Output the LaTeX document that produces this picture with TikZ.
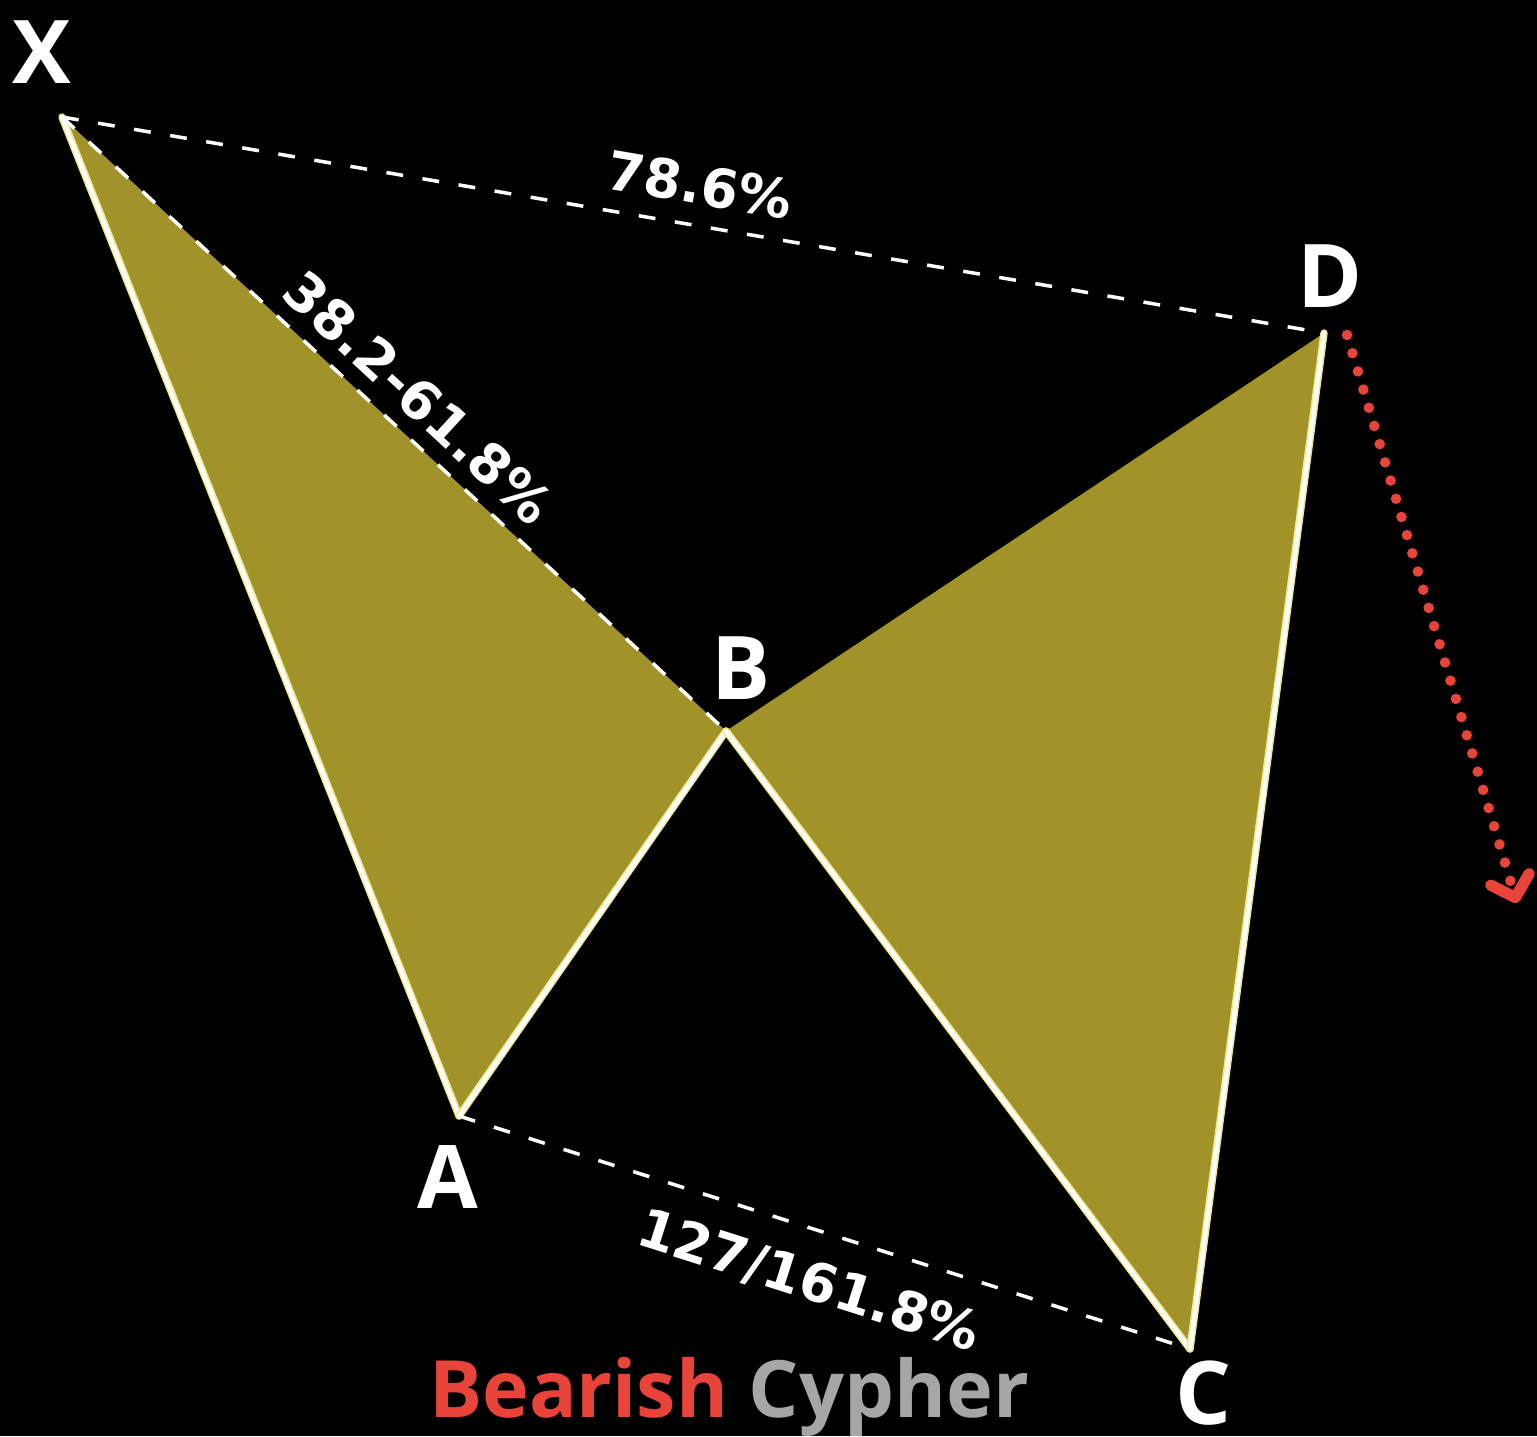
\documentclass[tikz,border=0pt]{standalone}
\usepackage{fontspec}
\setmainfont{Open Sans}
\newfontfamily\ratiofont{DejaVu Sans}
\usepackage{tikz}
\usetikzlibrary{arrows.meta,positioning}
\definecolor{wingfill}{HTML}{A19229}
\definecolor{legwhite}{HTML}{FFFFFF}
\definecolor{legglow}{HTML}{F2E98A}
\definecolor{bearred}{HTML}{E8443A}
\definecolor{cyphergray}{HTML}{A6A6A6}

\begin{document}
\begin{tikzpicture}[
    x=0.01cm, y=-0.01cm,
    ptlbl/.style={font=\fontsize{25}{25}\selectfont\bfseries, text=white, inner sep=0pt},
    ratio/.style={font=\ratiofont\fontsize{15.3}{16}\selectfont\bfseries, text=white,
                  inner sep=0pt, sloped},
    leg/.style={draw=legwhite, line width=1.2pt, line cap=round},
    glow/.style={draw=legglow, line width=2.1pt, line cap=round},
    retr/.style={draw=white, line width=1pt, dash pattern=on 4.8pt off 5.6pt},
    target/.style={draw=bearred, line width=3pt, line cap=round,
                   dash pattern=on 0pt off 5.4pt},
]

% background
\fill[black] (0,0) rectangle (1537,1436);
\useasboundingbox (0,0) rectangle (1537,1436);

% pattern points
\coordinate (X) at (62,117);
\coordinate (A) at (459,1116);
\coordinate (B) at (726,731);
\coordinate (C) at (1190,1349);
\coordinate (D) at (1324,333);

% wings
\fill[wingfill] (X) -- (A) -- (B) -- cycle;
\fill[wingfill] (B) -- (C) -- (D) -- cycle;

% legs
\foreach \p/\q in {X/A, A/B, B/C, C/D}{
  \draw[glow] (\p) -- (\q);
  \draw[leg] (\p) -- (\q);
}

% retracement lines
\draw[retr] (X) -- node[ratio, above=0.19cm] {78.6\%} (D);
\draw[retr] (X) -- node[ratio, above=0.14cm] {38.2-61.8\%} (B);
\draw[retr] (A) -- node[ratio, below=0.27cm] {127/161.8\%} (C);

% expected move
\coordinate (Ds) at (1347,335);
\coordinate (Te) at (1517,903);
\draw[target, -{Straight Barb[round, length=0.19cm, width=0.4cm, line width=3.2pt]}] (Ds) -- (Te);

% point labels
\node[ptlbl] (Xl) at (42,52) {X};
\node[ptlbl] (Al) at (448,1177) {A};
\node[ptlbl] (Bl) at (741,668) {B};
\node[ptlbl] (Cl) at (1203,1393) {C};
\node[ptlbl] (Dl) at (1330,276) {D};

% title
\node[font=\fontsize{22.5}{23}\selectfont\bfseries, inner sep=0pt, anchor=base] (title)
  at (729,1417) {\textcolor{bearred}{Bearish} \textcolor{cyphergray}{Cypher}};

\end{tikzpicture}
\end{document}
